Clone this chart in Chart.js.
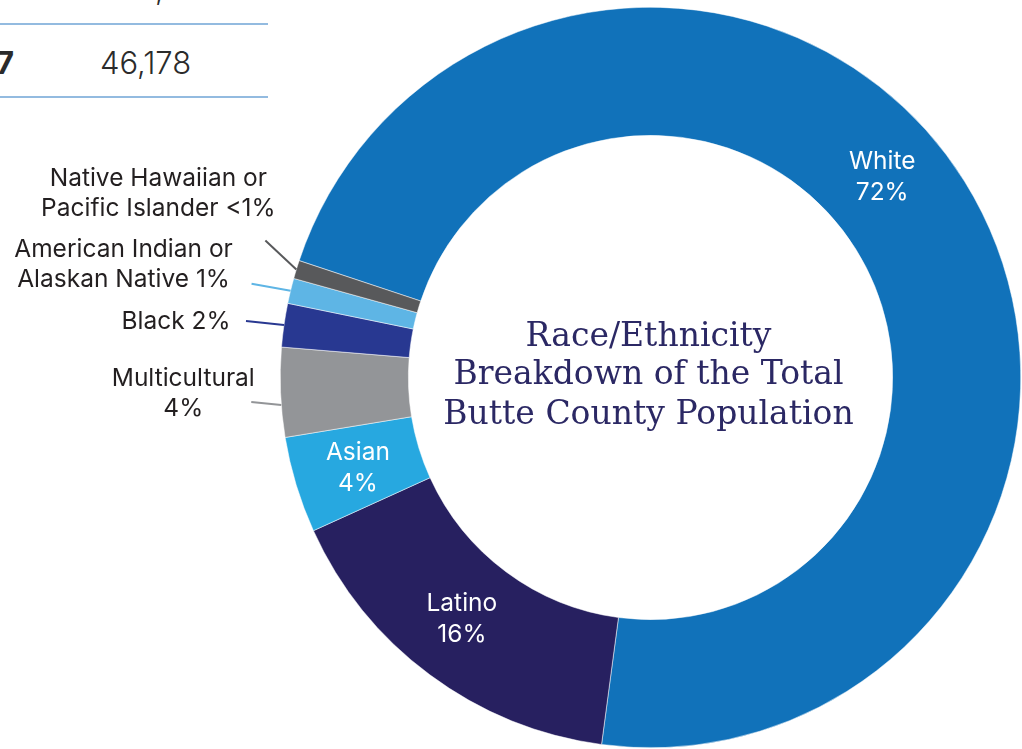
<!DOCTYPE html>
<html>
<head>
<meta charset="utf-8">
<script src="https://cdn.jsdelivr.net/npm/chart.js@4"></script>
<style>
  html, body { margin: 0; padding: 0; background: #fff; overflow: hidden; }
  #wrap { position: relative; width: 1022px; height: 749px; }
  #pie { position: absolute; left: 0; top: 0; }
  .rule { position: absolute; left: 0; width: 268px; height: 2px; background: #93bbe0; }
  .cell { position: absolute; font-family: Inter, "Noto Sans", sans-serif; font-size: 31px; color: #2b2b2b; line-height: 1; }
</style>
</head>
<body>
<div id="wrap">
  <!-- bit of the table that sits next to the chart -->
  <div class="cell" style="left:122px; top:-27px; font-weight:300;">47,758</div>
  <div class="rule" style="top:23px;"></div>
  <div class="cell" style="left:-4px; top:47px; font-weight:700;">7</div>
  <div class="cell" style="left:100px; top:47px; font-weight:300;">46,178</div>
  <div class="rule" style="top:96px;"></div>
  <canvas id="pie" width="1022" height="749"></canvas>
</div>
<script>
// slices go clockwise, starting with White
const groups = ['White', 'Latino', 'Asian', 'Multicultural', 'Black',
  'American Indian or Alaskan Native', 'Native Hawaiian or Pacific Islander'];
const shares = [72.0, 16.1, 4.2, 3.9, 1.9, 1.1, 0.8];
const labelText = [
  ['White', '72%'],
  ['Latino', '16%'],
  ['Asian', '4%'],
  ['Multicultural', '4%'],
  ['Black 2%'],
  ['American Indian or', 'Alaskan Native 1%'],
  ['Native Hawaiian or', 'Pacific Islander <1%']
];
const titleLines = ['Race/Ethnicity', 'Breakdown of the Total', 'Butte County Population'];

const sliceColors = ['#1172ba', '#272060', '#27a8e0', '#939598', '#283891', '#5eb5e5', '#58595b'];

// where each label goes: inside the ring, or outside with a short leader line
const labelSpots = [
  { inside: true, at: 0.466 },
  { inside: true, at: 0.525 },
  { inside: true, at: 0.48 },
  { inside: false, at: 0.36, lead: [-30, -3], text: [-98, -11] },
  { inside: false, at: 0.5, lead: [-38, -4], text: [-108, -3] },
  { inside: false, at: 0.5, lead: [-39, -7], text: [-167, -26] },
  { inside: false, at: 0.5, lead: [-31, -29], text: [-138, -76] }
];

const sliceLabels = {
  id: 'sliceLabels',
  afterDatasetsDraw(chart) {
    const ctx = chart.ctx;
    const arcs = chart.getDatasetMeta(0).data;
    ctx.save();
    ctx.font = '24.5px Inter';
    ctx.textAlign = 'center';
    ctx.textBaseline = 'middle';
    arcs.forEach((arc, i) => {
      const p = arc.getProps(['x', 'y', 'startAngle', 'endAngle', 'innerRadius', 'outerRadius'], true);
      const spot = labelSpots[i];
      const a = p.startAngle + (p.endAngle - p.startAngle) * spot.at;
      const lines = labelText[i];
      let tx, ty, gap;
      if (spot.inside) {
        const r = (p.innerRadius + p.outerRadius) / 2;
        tx = p.x + Math.cos(a) * r;
        ty = p.y + Math.sin(a) * r;
        gap = 31;
        ctx.fillStyle = '#ffffff';
      } else {
        const ex = p.x + Math.cos(a) * p.outerRadius;
        const ey = p.y + Math.sin(a) * p.outerRadius;
        ctx.strokeStyle = sliceColors[i];
        ctx.lineWidth = 2;
        ctx.beginPath();
        ctx.moveTo(ex, ey);
        ctx.lineTo(ex + spot.lead[0], ey + spot.lead[1]);
        ctx.stroke();
        tx = ex + spot.text[0];
        ty = ey + spot.text[1];
        gap = 30;
        ctx.fillStyle = '#231f20';
      }
      lines.forEach((s, k) => {
        ctx.fillText(s, tx, ty + (k - (lines.length - 1) / 2) * gap);
      });
    });
    ctx.restore();
  }
};

const centerTitle = {
  id: 'centerTitle',
  afterDraw(chart) {
    const ctx = chart.ctx;
    const arc = chart.getDatasetMeta(0).data[0];
    ctx.save();
    ctx.font = '33px "DejaVu Serif"';
    ctx.fillStyle = '#2b2864';
    ctx.textAlign = 'center';
    ctx.textBaseline = 'alphabetic';
    const offs = [-32, 6, 46];
    titleLines.forEach((s, k) => ctx.fillText(s, arc.x - 2, arc.y + offs[k]));
    ctx.restore();
  }
};

new Chart(document.getElementById('pie'), {
  type: 'doughnut',
  data: {
    labels: groups,
    datasets: [{
      data: shares,
      backgroundColor: sliceColors,
      borderColor: '#ffffff',
      borderWidth: 0.5
    }]
  },
  options: {
    responsive: false,
    devicePixelRatio: 1,
    animation: false,
    rotation: -71.6,
    cutout: '65.4%',
    layout: { padding: { left: 280, top: 7, right: 1, bottom: 1 } },
    plugins: {
      legend: { display: false },
      tooltip: { enabled: false }
    }
  },
  plugins: [sliceLabels, centerTitle]
});
</script>
</body>
</html>
